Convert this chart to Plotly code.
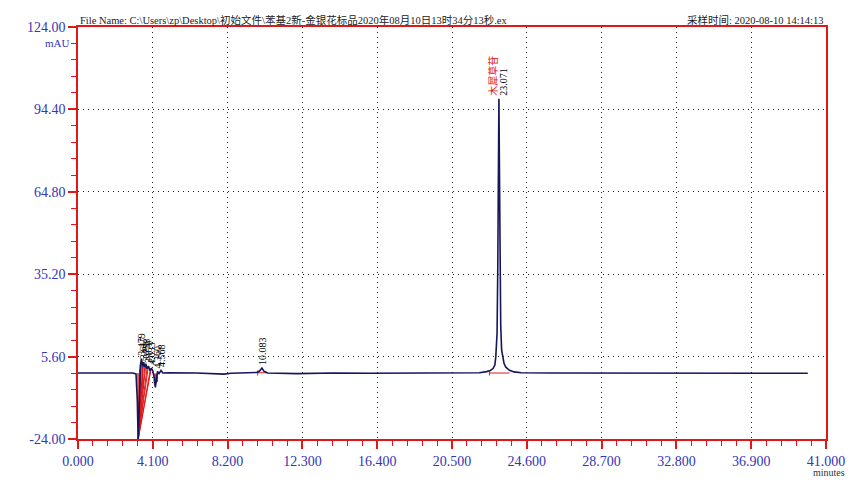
import plotly.graph_objects as go

# ---------------- data ----------------
time_min = [0.0, 1.0, 2.0, 3.0, 3.18, 3.25, 3.30, 3.36, 3.42, 3.48, 3.54, 3.60, 3.66, 3.72,
            3.78, 3.86, 3.95, 4.02, 4.10, 4.18, 4.24, 4.30, 4.36, 4.44, 4.55, 4.65, 5.0,
            6.5, 7.6, 8.0, 8.4, 9.0, 9.8, 9.95, 10.083, 10.2, 10.4, 12.0, 14.0, 16.0, 18.0,
            20.0, 22.0, 22.4, 22.6, 22.75, 22.85, 22.90, 22.97, 23.01, 23.04, 23.071, 23.10,
            23.13, 23.17, 23.22, 23.28, 23.35, 23.45, 23.65, 23.9, 24.3, 26.0, 30.0, 34.0,
            38.0, 40.0]
signal_mau = [-0.3, -0.3, -0.3, -0.3, -0.6, -10.0, -25.0, -8.0, 2.5, 4.8, 2.0, 3.6, 1.8, 3.0,
              1.2, 2.2, 0.5, 1.5, 0.5, -2.0, -5.5, -2.5, 0.3, -0.5, 0.6, -0.3, -0.2,
              -0.3, -0.5, -0.7, -0.4, -0.2, -0.1, 0.4, 1.5, 0.3, -0.3, -0.5, -0.3, -0.4, -0.3,
              -0.3, -0.2, 0.2, 0.6, 1.3, 2.6, 5.5, 14.0, 38.0, 72.0, 98.2, 74.0,
              42.0, 17.0, 8.0, 5.0, 3.2, 1.8, 0.7, 0.1, -0.2, -0.3, -0.4, -0.3,
              -0.4, -0.4]

# integration baselines / drop lines (red)
integ_x = [3.28, 3.30, None, 3.30, 3.42, None, 3.30, 3.48, None, 3.30, 3.54, None,
           3.30, 3.60, None, 3.30, 3.66, None, 3.30, 3.72, None, 3.30, 3.78, None,
           3.30, 3.86, None, 3.30, 3.95, None, 3.30, 4.02, None,
           3.34, 3.34, None, 3.38, 3.38, None, 3.45, 3.45, None, 3.54, 3.54, None,
           4.18, 4.18, None, 4.24, 4.24, None, 4.30, 4.30, None, 4.36, 4.36, None,
           9.85, 10.35, None, 9.85, 9.85, None, 22.55, 23.65, None, 22.55, 22.55]
integ_y = [-0.3, -24.0, None, -24.0, 2.5, None, -24.0, 4.8, None, -24.0, 2.0, None,
           -24.0, 3.6, None, -24.0, 1.8, None, -24.0, 3.0, None, -24.0, 1.2, None,
           -24.0, 2.2, None, -24.0, 0.5, None, -24.0, 1.5, None,
           -17.0, -0.3, None, -12.0, 1.0, None, -9.0, 3.5, None, -6.0, 2.0, None,
           -0.5, -4.5, None, -0.5, -5.0, None, -0.5, -4.0, None, -0.5, -3.5, None,
           -0.2, -0.2, None, 0.6, -1.2, None, -0.3, -0.3, None, 0.3, -1.2]

peak_labels = ["3.479", "3.617", "3.738", "3.870", "4.033", "4.360", "4.568", "10.083", "23.071"]
peak_times = [3.48, 3.60, 3.72, 3.86, 4.02, 4.36, 4.55, 10.083, 23.071]
peak_heights = [4.8, 3.6, 3.0, 2.2, 1.5, 0.3, 0.6, 1.5, 98.2]

compound_name = "木犀草苷"

y_ticks = [-24.0, 5.6, 35.2, 64.8, 94.4, 124.0]
x_ticks = [0.0, 4.1, 8.2, 12.3, 16.4, 20.5, 24.6, 28.7, 32.8, 36.9, 41.0]

title_text = "File Name: C:\\Users\\zp\\Desktop\\初始文件\\苯基2新-金银花标品2020年08月10日13时34分13秒.ex"
time_text = "采样时间: 2020-08-10 14:14:13"

# ---------------- figure ----------------
RED = "#e01818"
BLUE = "#3535b5"
NAVY = "#16165c"
FONT = "Liberation Serif, Noto Sans CJK SC, serif"

fig = go.Figure()
fig.add_trace(go.Scatter(x=integ_x, y=integ_y, mode="lines",
                         line=dict(color=RED, width=1), hoverinfo="skip", showlegend=False))
fig.add_trace(go.Scatter(x=time_min, y=signal_mau, mode="lines",
                         line=dict(color=NAVY, width=1.6), showlegend=False))

annotations = []
for lab, t, h in zip(peak_labels, peak_times, peak_heights):
    dx = 5 if lab == "23.071" else 0
    annotations.append(dict(x=t, y=h, xref="x", yref="y", text=lab, textangle=-90,
                            showarrow=False, xanchor="center", yanchor="bottom",
                            xshift=dx, yshift=1,
                            font=dict(family=FONT, size=10, color="black")))
annotations.append(dict(x=peak_times[-1], y=peak_heights[-1], xref="x", yref="y",
                        text=compound_name, textangle=-90, showarrow=False,
                        xanchor="center", yanchor="bottom", xshift=-6, yshift=1,
                        font=dict(family=FONT, size=10, color=RED)))
annotations.append(dict(x=0, y=1.016, xref="paper", yref="paper", text=title_text,
                        showarrow=False, xanchor="left", yanchor="middle",
                        font=dict(family=FONT, size=10.5, color="#222222")))
annotations.append(dict(x=1, y=1.016, xref="paper", yref="paper", text=time_text,
                        showarrow=False, xanchor="right", yanchor="middle",
                        font=dict(family=FONT, size=10.5, color="#222222")))
annotations.append(dict(x=-0.008, y=0.962, xref="paper", yref="paper", text="mAU",
                        showarrow=False, xanchor="right", yanchor="middle",
                        font=dict(family=FONT, size=11, color=BLUE)))
annotations.append(dict(x=1.004, y=-0.082, xref="paper", yref="paper", text="minutes",
                        showarrow=False, xanchor="center", yanchor="middle",
                        font=dict(family=FONT, size=10, color="#333333")))

fig.update_layout(
    width=864, height=501,
    margin=dict(l=70, r=46, t=14, b=70),
    paper_bgcolor="white", plot_bgcolor="white",
    annotations=annotations,
    showlegend=False,
)
fig.update_xaxes(
    range=[0, 41], tickmode="array", tickvals=x_ticks,
    ticktext=[f"{v:.3f}" for v in x_ticks],
    tickfont=dict(family=FONT, size=14, color=BLUE),
    showline=True, linecolor=RED, linewidth=1.5, mirror=True,
    ticks="outside", ticklen=8, tickcolor=RED, tickwidth=1.5,
    showgrid=True, gridcolor="#222222", griddash="1px,4px", gridwidth=1,
    zeroline=False,
    minor=dict(dtick=0.82, tick0=0, ticks="outside", ticklen=5, tickcolor=RED,
               tickwidth=1.2, showgrid=False),
)
fig.update_yaxes(
    range=[-24, 124], tickmode="array", tickvals=y_ticks,
    ticktext=[f"{v:.2f}" for v in y_ticks],
    tickfont=dict(family=FONT, size=14, color=BLUE),
    showline=True, linecolor=RED, linewidth=1.5, mirror=True,
    ticks="outside", ticklen=8, tickcolor=RED, tickwidth=1.5,
    showgrid=True, gridcolor="#222222", griddash="1px,4px", gridwidth=1,
    zeroline=False,
    minor=dict(dtick=5.92, tick0=-24, ticks="outside", ticklen=5, tickcolor=RED,
               tickwidth=1.2, showgrid=False),
)

fig.write_html("out.html")
